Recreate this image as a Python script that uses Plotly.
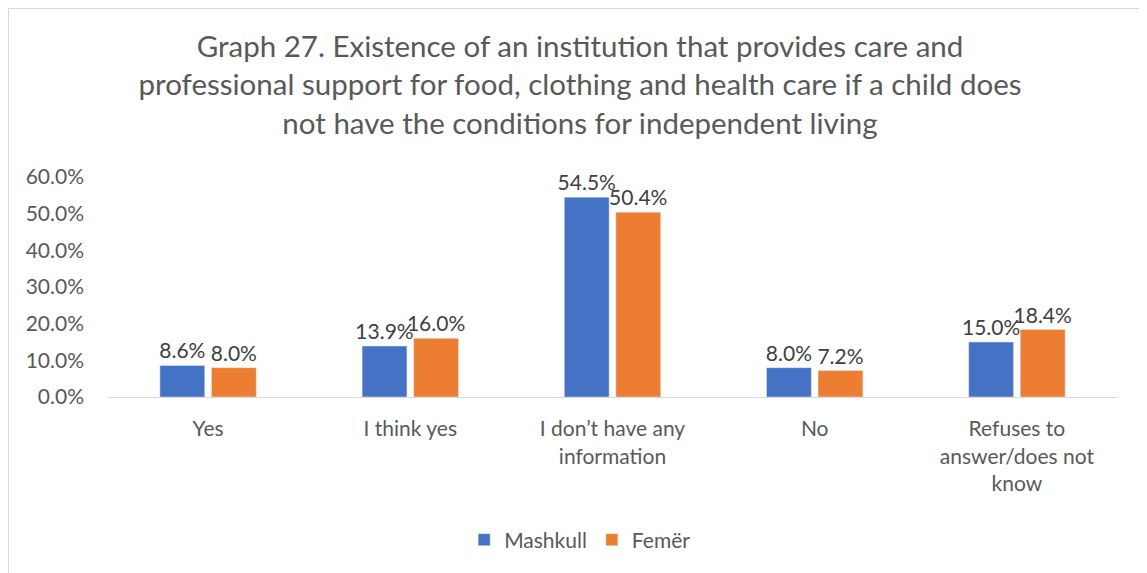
import plotly.graph_objects as go

FONT = "Lato"
GREY = "#595959"

categories = ["Yes", "I think yes", "I don’t have any<br>information", "No",
              "Refuses to<br>answer/does not<br>know"]
mashkull = [8.6, 13.9, 54.5, 8.0, 15.0]
femer = [8.0, 16.0, 50.4, 7.2, 18.4]

title_text = ("Graph 27. Existence of an institution that provides care and<br>"
              "professional support for food, clothing and health care if a child does<br>"
              "not have the conditions for independent living")

fig = go.Figure(data=[
    go.Bar(x=categories, y=mashkull, name="Mashkull", marker=dict(color="#4472C4"),
           text=mashkull, texttemplate="%{y:.1f}%", textposition="outside", cliponaxis=False),
    go.Bar(x=categories, y=femer, name="Femër", marker=dict(color="#ED7D31"),
           text=femer, texttemplate="%{y:.1f}%", textposition="outside", cliponaxis=False),
])

fig.update_traces(textfont=dict(family=FONT, size=21, color="#404040"), constraintext="none")

fig.update_layout(
    width=1147, height=573,
    margin=dict(l=99, r=37, t=169, b=184),
    paper_bgcolor="white", plot_bgcolor="white",
    font=dict(family=FONT, size=21, color=GREY),
    title=dict(text=title_text, x=0.4987, xref="container", xanchor="center",
               y=1 - 49 / 573, yref="container", yanchor="top",
               font=dict(family=FONT, size=29.5, color=GREY)),
    barmode="group", bargap=0.49, bargroupgap=0.13,
    showlegend=True,
    legend=dict(orientation="h", x=0.468, xanchor="center", y=-0.65, yanchor="middle",
                font=dict(family=FONT, size=21, color=GREY), itemwidth=30),
    xaxis=dict(showline=True, linecolor="#D9D9D9", linewidth=1, ticks="",
               ticklabelstandoff=13,
               tickfont=dict(family=FONT, size=21, color=GREY)),
    yaxis=dict(range=[0, 60], dtick=10, tickformat=".1f", ticksuffix="%",
               showgrid=False, zeroline=False, showline=False,
               ticklabelstandoff=22,
               tickfont=dict(family=FONT, size=21, color=GREY)),
    shapes=[dict(type="rect", xref="paper", yref="paper",
                 x0=-0.0979, x1=1.2, y0=-1.0, y1=1.768,
                 line=dict(color="#D9D9D9", width=2), fillcolor="rgba(0,0,0,0)")],
)

fig.write_html("out.html")
